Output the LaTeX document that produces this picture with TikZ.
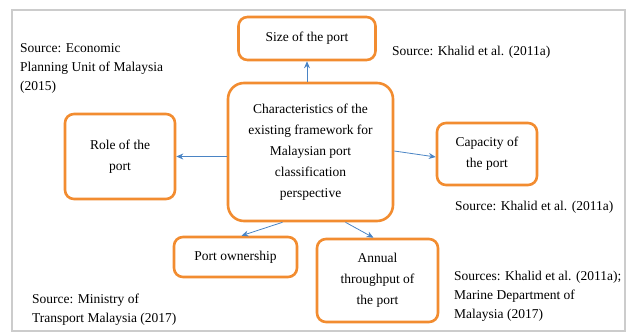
\documentclass[tikz,border=0pt]{standalone}
\usepackage{fontspec}
\setmainfont{Liberation Serif}
\usetikzlibrary{arrows.meta}
\usetikzlibrary{positioning}
\tikzset{>={Stealth[length=7pt,width=6pt]}}
\definecolor{boxorange}{HTML}{F28C30}
\definecolor{linkblue}{HTML}{4A84C4}

\begin{document}
\begin{tikzpicture}[x=1pt,y=-1pt,
    box/.style={draw=boxorange,line width=2.6pt,rounded corners=9pt,align=center,
      inner sep=0pt,font=\fontsize{13.5}{21}\selectfont},
    src/.style={anchor=west,align=left,inner sep=0pt,font=\fontsize{13.5}{19}\selectfont},
    link/.style={->,draw=linkblue,line width=0.8pt}]
\useasboundingbox (0,0) rectangle (630,334);
\draw[black!20,line width=2pt] (12,10) rectangle (625,331);

% boxes
\node[box,minimum width=137pt,minimum height=43pt] (size) at (307,38.5) {Size of the port};
\node[box,rounded corners=16pt,minimum width=165pt,minimum height=138pt] (ctr) at (310.5,152)
  {Characteristics of the\\existing framework for\\Malaysian port\\classification\\perspective};
\node[box,minimum width=110pt,minimum height=85pt] (role) at (120,156.5) {Role of the\\port};
\node[box,minimum width=100pt,minimum height=62pt] (cap) at (487,154) {Capacity of\\the port};
\node[box,minimum width=123pt,minimum height=40pt] (own) at (235.5,257) {Port ownership};
\node[box,minimum width=121pt,minimum height=83pt] (ann) at (377.5,280.5) {Annual\\throughput of\\the port};

% sources
\node[src] (s1) at (20,68) {Source: Economic\\Planning Unit of Malaysia\\(2015)};
\node[src] (s2) at (392,52) {Source: Khalid et al. (2011a)};
\node[src] (s3) at (455,207) {Source: Khalid et al. (2011a)};
\node[src] (s4) at (32,309.5) {Source: Ministry of\\Transport Malaysia (2017)};
\node[src] (s5) at (454,296.5) {Sources: Khalid et al. (2011a);\\Marine Department of\\Malaysia (2017)};

% links
\draw[link] (ctr.north -| size.south) -- (size.south);
\draw[link] (ctr.west |- role.east) -- (role.east);
\draw[link] ([yshift=1pt]ctr.east) -- ([yshift=-3pt]cap.west);
\draw[link] ([xshift=-28pt]ctr.south) -- ([xshift=6pt]own.north);
\draw[link] ([xshift=35pt]ctr.south) -- ([xshift=-4pt]ann.north);
\end{tikzpicture}
\end{document}
